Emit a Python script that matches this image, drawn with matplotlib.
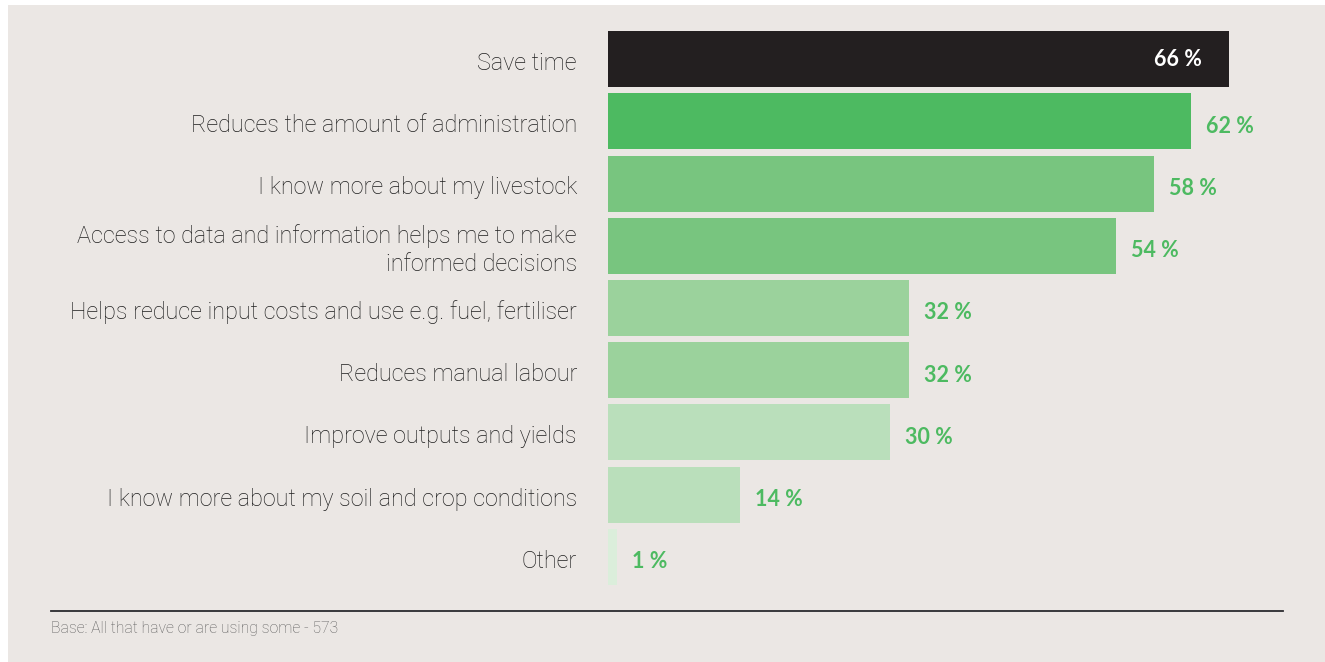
import matplotlib.pyplot as plt
from matplotlib.patches import Rectangle

# survey answers, top to bottom
labels = [
    "Save time",
    "Reduces the amount of administration",
    "I know more about my livestock",
    "Access to data and information helps me to make\ninformed decisions",
    "Helps reduce input costs and use e.g. fuel, fertiliser",
    "Reduces manual labour",
    "Improve outputs and yields",
    "I know more about my soil and crop conditions",
    "Other",
]
values = [66, 62, 58, 54, 32, 32, 30, 14, 1]
colors = ["#231f20", "#4dba61", "#78c57f", "#78c57f", "#9bd29c",
          "#9bd29c", "#badfbb", "#badfbb", "#dbeedb"]
note = "Base: All that have or are using some - 573"

W, H = 1325, 662
bg = "#ebe7e4"
green = "#4dba61"

fig = plt.figure(figsize=(W / 100, H / 100), dpi=100, facecolor="white")
fig.patches.append(Rectangle((8 / W, 0), 1, 1 - 5 / H, transform=fig.transFigure,
                             facecolor=bg, edgecolor="none", zorder=-10))

# axes placed in pixel terms: bars start at x=608, 66 % reaches x=1229
left, right = 608, 608 + 70 * 621 / 66
top, bottom = 28, 588
ax = fig.add_axes([left / W, 1 - bottom / H, (right - left) / W, (bottom - top) / H])
ax.set_facecolor("none")

y = list(range(len(values)))
ax.barh(y, values, height=0.9, color=colors)
ax.set_xlim(0, 70)
ax.set_ylim(len(values) - 0.5, -0.5)
ax.axis("off")

for i, (lab, v) in enumerate(zip(labels, values)):
    ax.text(-3.3, i + 0.07, lab, ha="right", va="center", fontsize=16.8,
            family="Roboto", weight="light", color="#1e1e1e", linespacing=1.3)
    if i == 0:
        ax.text(v - 2.9, i, f"{v} %", ha="right", va="center", fontsize=15.5,
                family="Lato", weight="bold", color="white")
    else:
        ax.text(v + 1.6, i + 0.08, f"{v} %", ha="left", va="center", fontsize=15.5,
                family="Lato", weight="bold", color=green)

# footnote rule and base text
fig.add_artist(plt.Line2D([51 / W, 1283 / W], [1 - 611 / H, 1 - 611 / H],
                          color="#2b2b2f", lw=1.3))
fig.text(51 / W, 1 - 628 / H, note, ha="left", va="center", fontsize=11.3,
         family="Roboto", weight="light", color="#5e5e5e")

fig.savefig("out.png", dpi=100, facecolor=fig.get_facecolor())
